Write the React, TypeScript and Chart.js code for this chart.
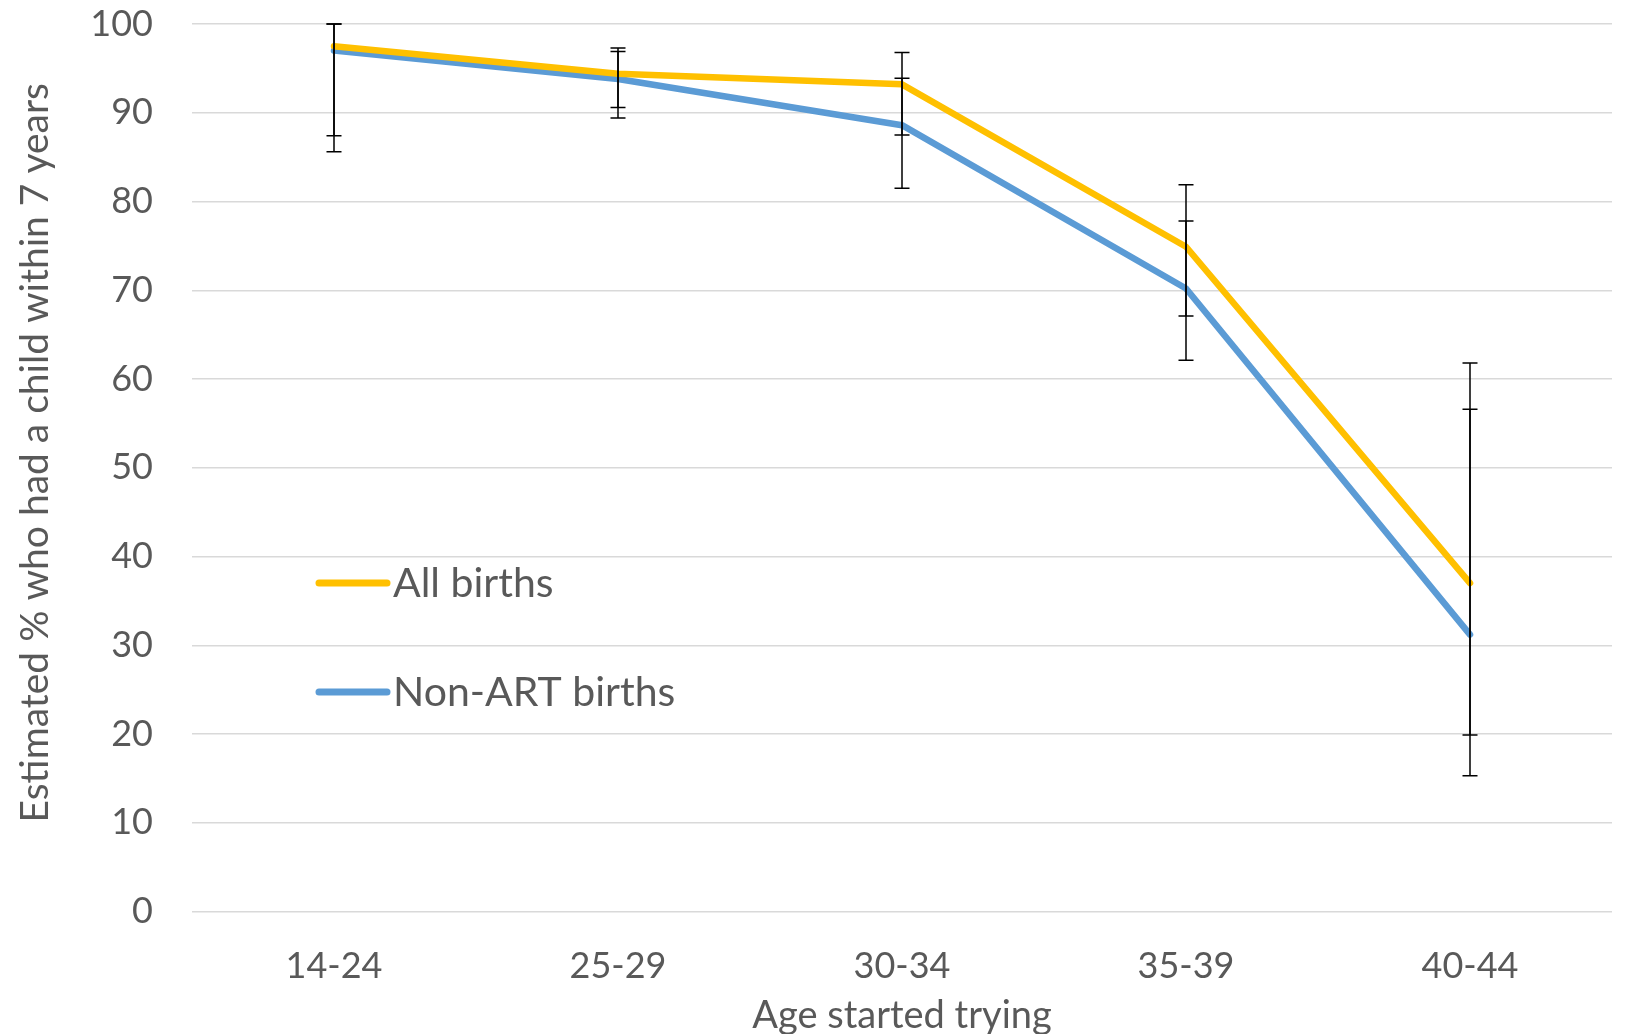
import React, { useEffect, useRef } from "react";
import { Chart, registerables } from "chart.js";

Chart.register(...registerables);

const categories = ["14-24", "25-29", "30-34", "35-39", "40-44"];
const allBirths = [97.5, 94.4, 93.2, 74.9, 37.0];
const allLow = [87.4, 90.6, 87.5, 67.1, 19.9];
const allHigh = [100, 97.3, 96.8, 81.9, 61.8];
const nonArt = [97.0, 93.8, 88.6, 70.2, 31.2];
const nonArtLow = [85.6, 89.4, 81.5, 62.1, 15.3];
const nonArtHigh = [100, 96.9, 93.9, 77.8, 56.6];
const yTicks = [0, 10, 20, 30, 40, 50, 60, 70, 80, 90, 100];
const seriesNames = ["All births", "Non-ART births"];
const seriesColors = ["#FFC000", "#5B9BD5"];

const FONT = "Lato, 'Open Sans', sans-serif";
const TEXT = "#595959";

const errorBars = {
  id: "errorBars",
  afterDatasetsDraw(chart: any) {
    const { ctx, scales } = chart;
    const xs = scales.x;
    const ys = scales.y;
    const sets = [
      [allLow, allHigh],
      [nonArtLow, nonArtHigh],
    ];
    ctx.save();
    ctx.strokeStyle = "#000000";
    ctx.lineWidth = 1.5;
    const cap = 7.5;
    sets.forEach(([lo, hi]) => {
      lo.forEach((l: number, i: number) => {
        const x = xs.getPixelForValue(i);
        const y1 = ys.getPixelForValue(l);
        const y2 = ys.getPixelForValue(hi[i]);
        ctx.beginPath();
        ctx.moveTo(x, y1);
        ctx.lineTo(x, y2);
        ctx.moveTo(x - cap, y1);
        ctx.lineTo(x + cap, y1);
        ctx.moveTo(x - cap, y2);
        ctx.lineTo(x + cap, y2);
        ctx.stroke();
      });
    });
    ctx.restore();
  },
};

const innerLegend = {
  id: "innerLegend",
  afterDraw(chart: any) {
    const { ctx, chartArea } = chart;
    ctx.save();
    const x0 = chartArea.left + 127;
    const x1 = chartArea.left + 195;
    const rows = [chartArea.top + 559, chartArea.top + 668];
    chart.data.datasets.forEach((ds: any, i: number) => {
      const y = rows[i];
      ctx.strokeStyle = ds.borderColor;
      ctx.lineWidth = 7;
      ctx.lineCap = "round";
      ctx.beginPath();
      ctx.moveTo(x0, y);
      ctx.lineTo(x1, y);
      ctx.stroke();
      ctx.fillStyle = TEXT;
      ctx.font = `41px ${FONT}`;
      ctx.textAlign = "left";
      ctx.textBaseline = "middle";
      ctx.fillText(ds.label, x1 + 6, y + 1);
    });
    ctx.restore();
  },
};

export default function App() {
  const ref = useRef<HTMLCanvasElement | null>(null);

  useEffect(() => {
    if (!ref.current) return;
    const chart = new Chart(ref.current, {
      type: "line",
      data: {
        labels: categories,
        datasets: [
          {
            label: seriesNames[0],
            data: allBirths,
            borderColor: seriesColors[0],
            backgroundColor: seriesColors[0],
            borderWidth: 6.5,
            pointRadius: 0,
            tension: 0,
            borderCapStyle: "round",
            borderJoinStyle: "round",
          },
          {
            label: seriesNames[1],
            data: nonArt,
            borderColor: seriesColors[1],
            backgroundColor: seriesColors[1],
            borderWidth: 6.5,
            pointRadius: 0,
            tension: 0,
            borderCapStyle: "round",
            borderJoinStyle: "round",
          },
        ],
      },
      options: {
        responsive: false,
        animation: false,
        layout: { padding: { top: 24, right: 13, left: 0, bottom: 0 } },
        plugins: {
          legend: { display: false },
          tooltip: { enabled: false },
        },
        scales: {
          x: {
            offset: true,
            grid: { display: false, drawTicks: false },
            border: { display: false },
            ticks: {
              color: TEXT,
              font: { family: FONT, size: 36 },
              padding: 33,
              maxRotation: 0,
            },
            title: {
              display: true,
              text: "Age started trying",
              color: TEXT,
              font: { family: FONT, size: 38 },
              padding: { top: 0, bottom: -5 },
            },
            afterFit(scale: any) {
              scale.height = 122.5;
              scale.paddingLeft = 0;
              scale.paddingRight = 0;
            },
          },
          y: {
            min: 0,
            max: 100,
            afterBuildTicks(scale: any) {
              scale.ticks = yTicks.map((v) => ({ value: v }));
            },
            grid: { color: "#D9D9D9", lineWidth: 1.5, drawTicks: false },
            border: { display: false },
            ticks: {
              color: TEXT,
              font: { family: FONT, size: 36 },
              padding: 39,
            },
            title: {
              display: true,
              text: "   Estimated % who had a child within 7 years",
              color: TEXT,
              font: { family: FONT, size: 39 },
              padding: { top: 12.5, bottom: 0 },
            },
            afterFit(scale: any) {
              scale.width = 192;
              scale.paddingTop = 0;
              scale.paddingBottom = 0;
            },
          },
        },
      },
      plugins: [errorBars, innerLegend],
    });
    return () => chart.destroy();
  }, []);

  return (
    <div style={{ position: "absolute", left: 0, top: 0, width: 1625, height: 1034, background: "#fff" }}>
      <canvas ref={ref} width={1625} height={1034} style={{ display: "block" }} />
    </div>
  );
}
